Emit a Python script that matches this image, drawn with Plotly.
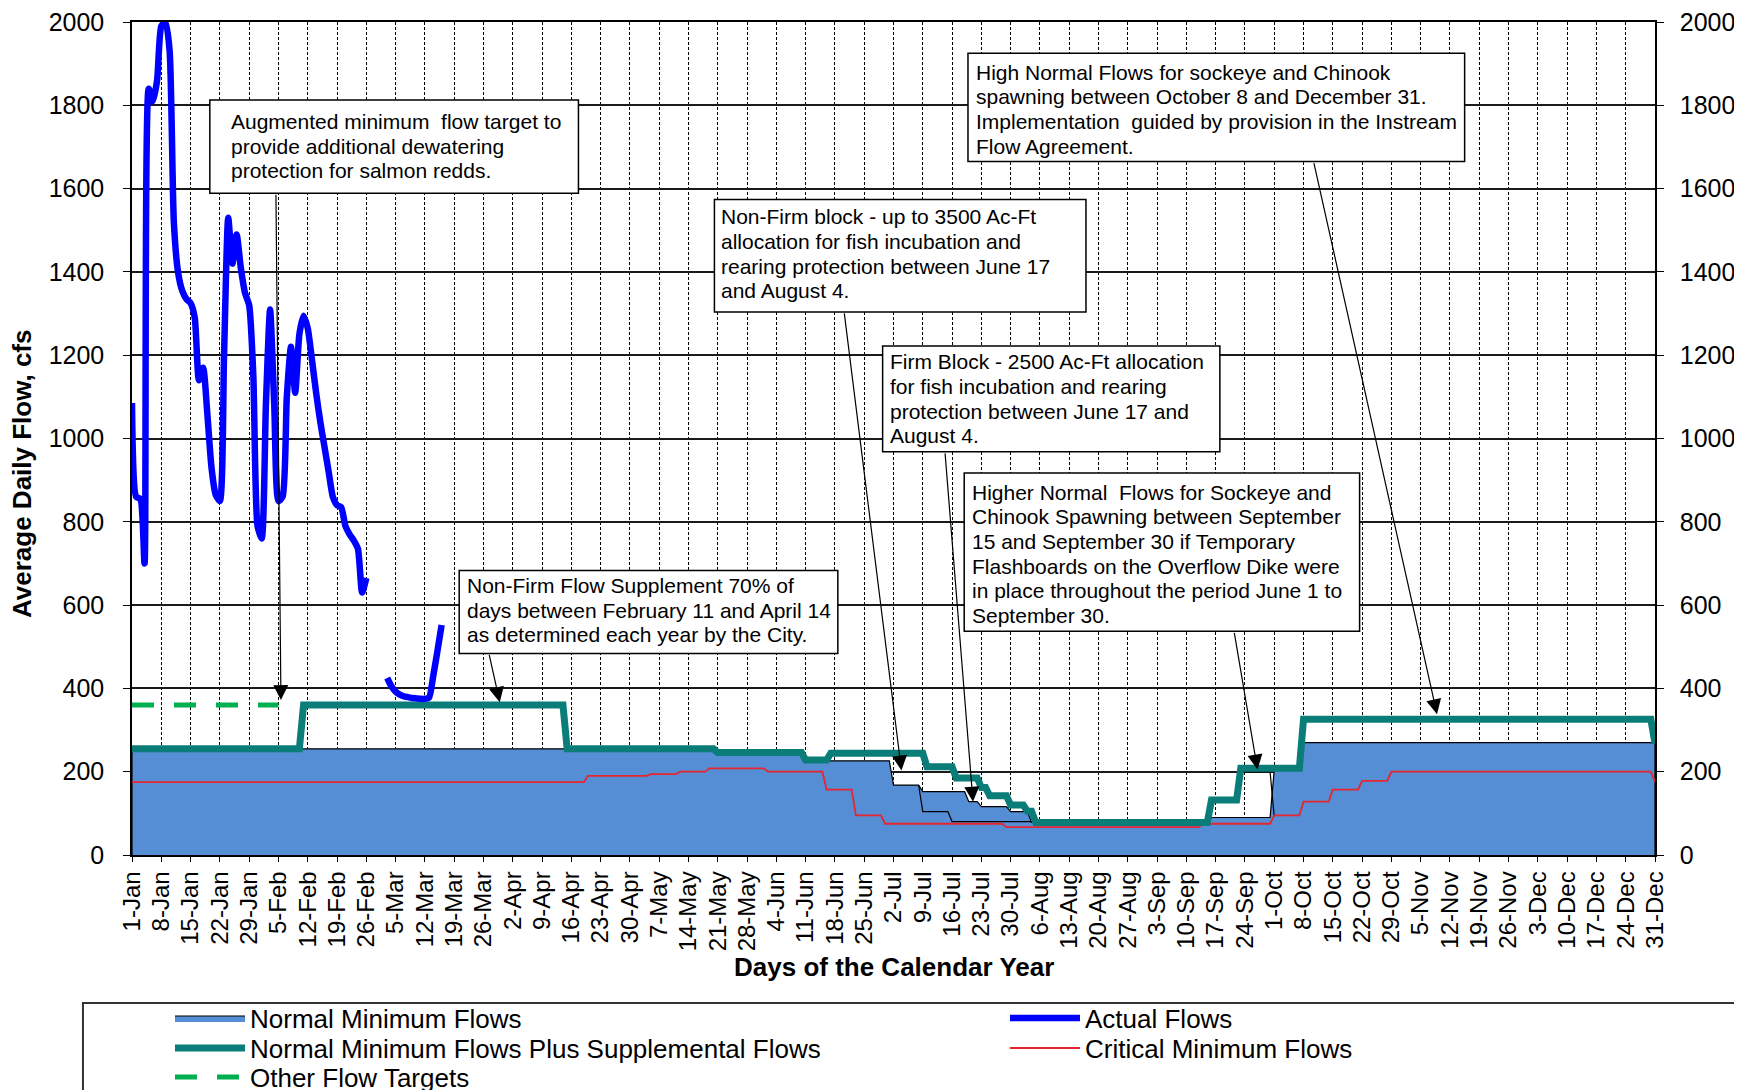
import plotly.graph_objects as go

FONT = "Liberation Sans, Arial, sans-serif"

# ---------------- data ----------------
TICK_DAYS = [1, 8, 15, 22, 29, 36, 43, 50, 57, 64, 71, 78, 85, 92, 99, 106, 113, 120,
             127, 134, 141, 148, 155, 162, 169, 176, 183, 190, 197, 204, 211, 218, 225,
             232, 239, 246, 253, 260, 267, 274, 281, 288, 295, 302, 309, 316, 323, 330,
             337, 344, 351, 358, 365]
TICK_LABELS = ["1-Jan", "8-Jan", "15-Jan", "22-Jan", "29-Jan", "5-Feb", "12-Feb", "19-Feb",
               "26-Feb", "5-Mar", "12-Mar", "19-Mar", "26-Mar", "2-Apr", "9-Apr", "16-Apr",
               "23-Apr", "30-Apr", "7-May", "14-May", "21-May", "28-May", "4-Jun", "11-Jun",
               "18-Jun", "25-Jun", "2-Jul", "9-Jul", "16-Jul", "23-Jul", "30-Jul", "6-Aug",
               "13-Aug", "20-Aug", "27-Aug", "3-Sep", "10-Sep", "17-Sep", "24-Sep", "1-Oct",
               "8-Oct", "15-Oct", "22-Oct", "29-Oct", "5-Nov", "12-Nov", "19-Nov", "26-Nov",
               "3-Dec", "10-Dec", "17-Dec", "24-Dec", "31-Dec"]
Y_TICKS = [0, 200, 400, 600, 800, 1000, 1200, 1400, 1600, 1800, 2000]

ACTUAL_DAYS = [1, 2, 3, 4, 5, 6, 7, 8, 9, 10, 11, 12, 13, 14, 15, 16, 17, 18, 19, 20,
               21, 22, 23, 24, 25, 26, 27, 28, 29, 30, 31, 32, 33, 34, 35, 36, 37, 38, 39, 40,
               41, 42, 43, 44, 45, 46, 47, 48, 49, 50, 51, 52, 53, 54, 55, 56, 57,
               59,
               62, 63, 64, 65, 66, 67, 68, 69, 70, 71, 72, 73, 74, 75]
ACTUAL_CFS = [1085, 860, 855, 700, 1840, 1810, 1860, 1990, 2000, 1930, 1520, 1400, 1355, 1335,
              1325, 1290, 1140, 1170, 1060, 930, 865, 850, 1200, 1530, 1420, 1490, 1410, 1350,
              1320, 1150, 790, 760, 1080, 1310, 1080, 850, 860, 1100, 1220, 1110, 1250, 1295,
              1265, 1190, 1110, 1040, 980, 920, 860, 840, 835, 790, 770, 755, 735, 630, 665,
              None,
              425, 405, 392, 385, 381, 379, 377, 376, 375, 375, 378, 430, 490, 552]

NMF_START = [1, 141, 162, 183, 190, 201, 204, 211, 216, 259, 274, 281]
NMF_END = [140, 161, 182, 189, 200, 203, 210, 215, 258, 273, 280, 365]
NMF_CFS = [255, 246, 226, 168, 152, 128, 116, 104, 78, 90, 205, 270]

SUPP_START = [1, 42, 105, 141, 162, 168, 191, 198, 204, 206, 211, 215, 217, 259, 266, 281, 365]
SUPP_END = [41, 104, 140, 161, 167, 190, 197, 203, 205, 210, 214, 216, 258, 265, 280, 364, 365]
SUPP_CFS = [255, 360, 255, 246, 228, 244, 212, 185, 162, 142, 120, 105, 78, 132, 208, 326, 268]

CRIT_START = [1, 110, 125, 132, 139, 153, 167, 174, 181, 210, 257, 274, 281, 288, 295, 302, 365]
CRIT_END = [109, 124, 131, 138, 152, 166, 173, 180, 209, 256, 273, 280, 287, 294, 301, 364, 365]
CRIT_CFS = [175, 190, 194, 200, 208, 200, 157, 95, 75, 67, 75, 95, 128, 157, 178, 200, 176]

OTHER_START = [1]
OTHER_END = [36]
OTHER_CFS = [360]

ALT1_DAYS = [189, 190, 196, 197, 216]
ALT1_CFS = [168, 104, 104, 80, 80]
ALT2_DAYS = [266, 273, 274]
ALT2_CFS = [200, 200, 92]

NOTE_LINES = [
    ["Augmented minimum  flow target to", "provide additional dewatering",
     "protection for salmon redds."],
    ["Non-Firm Flow Supplement 70% of", "days between February 11 and April 14",
     "as determined each year by the City."],
    ["Non-Firm block - up to 3500 Ac-Ft", "allocation for fish incubation and",
     "rearing protection between June 17", "and August 4."],
    ["Firm Block - 2500 Ac-Ft allocation", "for fish incubation and rearing",
     "protection between June 17 and", "August 4."],
    ["Higher Normal  Flows for Sockeye and", "Chinook Spawning between September",
     "15 and September 30 if Temporary", "Flashboards on the Overflow Dike were",
     "in place throughout the period June 1 to", "September 30."],
    ["High Normal Flows for sockeye and Chinook", "spawning between October 8 and December 31.",
     "Implementation  guided by provision in the Instream", "Flow Agreement."],
]
BOX_X0 = [19.6, 79.2, 140.2, 180.4, 199.9, 200.8]
BOX_X1 = [107.7, 169.7, 229.0, 261.0, 294.4, 319.5]
BOX_TOP = [1813, 683, 1574, 1222, 917, 1925]
BOX_BOTTOM = [1589, 484, 1304, 968, 537, 1665]
TEXT_INSET = [19, 6, 5, 5, 6, 6]
FIRST_LINE = [21.7, 15, 17.3, 15.7, 19, 19]
LINE_GAP = 24.7

ARROW_TAIL_X = [35.4, 86.3, 171.2, 195.3, 264.4, 283.4]
ARROW_TAIL_Y = [1589, 484, 1304, 968, 537, 1665]
ARROW_HEAD_X = [36.6, 88.9, 184.9, 202.0, 270.0, 312.9]
ARROW_HEAD_Y = [372, 367, 203, 128, 205, 338]


def steps(starts, ends, vals):
    xs, ys = [], []
    for s, e, v in zip(starts, ends, vals):
        xs.append(s)
        ys.append(v)
        if e != s:
            xs.append(e)
            ys.append(v)
    return xs, ys


nmf_x, nmf_y = steps(NMF_START, NMF_END, NMF_CFS)
supp_x, supp_y = steps(SUPP_START, SUPP_END, SUPP_CFS)
crit_x, crit_y = steps(CRIT_START, CRIT_END, CRIT_CFS)
oth_x, oth_y = steps(OTHER_START, OTHER_END, OTHER_CFS)

fig = go.Figure()

fig.add_trace(go.Scatter(
    x=[nmf_x[0]] + nmf_x + [nmf_x[-1]], y=[0] + nmf_y + [0],
    mode="lines", fill="tozeroy", fillcolor="#558ED5",
    line=dict(color="black", width=1.2),
    name="Normal Minimum Flows", legend="legend"))
fig.add_trace(go.Scatter(x=ALT1_DAYS, y=ALT1_CFS, mode="lines",
                         line=dict(color="black", width=1.2), showlegend=False))
fig.add_trace(go.Scatter(x=ALT2_DAYS, y=ALT2_CFS, mode="lines",
                         line=dict(color="black", width=1.2), showlegend=False))
fig.add_trace(go.Scatter(x=crit_x, y=crit_y, mode="lines",
                         line=dict(color="#E8242E", width=1.8),
                         name="Critical Minimum Flows", legend="legend4"))
fig.add_trace(go.Scatter(x=supp_x, y=supp_y, mode="lines",
                         line=dict(color="#0A7D78", width=7),
                         name="Normal Minimum Flows Plus Supplemental Flows", legend="legend3"))
fig.add_trace(go.Scatter(x=ACTUAL_DAYS, y=ACTUAL_CFS, mode="lines",
                         line=dict(color="#0000FF", width=6.5, shape="spline", smoothing=0.6),
                         name="Actual Flows", legend="legend2"))
# drawn against the right-hand axis (same 0-2000 scale) so that axis is rendered
fig.add_trace(go.Scatter(x=oth_x, y=oth_y, mode="lines", yaxis="y2",
                         line=dict(color="#00B050", width=5, dash="22px,20px"),
                         name="Other Flow Targets", legend="legend5"))

# note boxes
for i, lines in enumerate(NOTE_LINES):
    fig.add_shape(type="rect", xref="x", yref="y", x0=BOX_X0[i], x1=BOX_X1[i],
                  y0=BOX_BOTTOM[i], y1=BOX_TOP[i], layer="above",
                  line=dict(color="black", width=1.5), fillcolor="white")
    for j, txt in enumerate(lines):
        fig.add_annotation(x=BOX_X0[i], y=BOX_TOP[i], xref="x", yref="y",
                           xanchor="left", yanchor="middle", showarrow=False,
                           xshift=TEXT_INSET[i], yshift=-(FIRST_LINE[i] + j * LINE_GAP),
                           text=txt, font=dict(family=FONT, size=21, color="black"))

for i in range(len(ARROW_HEAD_X)):
    fig.add_annotation(x=ARROW_HEAD_X[i], y=ARROW_HEAD_Y[i], xref="x", yref="y",
                       ax=ARROW_TAIL_X[i], ay=ARROW_TAIL_Y[i], axref="x", ayref="y",
                       text="", showarrow=True, arrowhead=2, arrowsize=2.5,
                       arrowwidth=1.2, arrowcolor="black", standoff=0)

# axis titles
fig.add_annotation(x=0.5, y=-0.1345, xref="paper", yref="paper", showarrow=False,
                   text="<b>Days of the Calendar Year</b>", xanchor="center", yanchor="middle",
                   font=dict(family=FONT, size=26, color="black"))
fig.add_annotation(x=-0.0722, y=0.4574, xref="paper", yref="paper", showarrow=False,
                   text="<b>Average Daily Flow, cfs</b>", textangle=-90,
                   xanchor="center", yanchor="middle",
                   font=dict(family=FONT, size=26, color="black"))

# legend frame
fig.add_shape(type="rect", xref="paper", yref="paper", x0=-0.0322, x1=1.08,
              y0=-0.40, y1=-0.1777, line=dict(color="#333333", width=2),
              fillcolor="white", layer="below")

leg_common = dict(xanchor="left", yanchor="top", bgcolor="rgba(0,0,0,0)",
                  borderwidth=0, itemwidth=70,
                  font=dict(family=FONT, size=26, color="black"))

tick_font = dict(family=FONT, size=25, color="black")

fig.update_layout(
    width=1742, height=1090,
    margin=dict(l=124, r=95, t=14, b=243, autoexpand=False),
    paper_bgcolor="white", plot_bgcolor="white",
    font=dict(family=FONT, color="black"),
    legend=dict(x=0.02495, y=-0.1676, **leg_common),
    legend2=dict(x=0.5732, y=-0.1676, **leg_common),
    legend3=dict(x=0.02495, y=-0.2036, **leg_common),
    legend4=dict(x=0.5732, y=-0.2036, **leg_common),
    legend5=dict(x=0.02495, y=-0.2384, **leg_common),
    xaxis=dict(range=[1, 365], tickmode="array", tickvals=TICK_DAYS, ticktext=TICK_LABELS,
               tickangle=-90, tickfont=dict(family=FONT, size=24, color="black"),
               showgrid=True, gridcolor="black", gridwidth=1, griddash="3px,2px",
               showline=True, linecolor="black", linewidth=1.5, mirror=True,
               ticks="outside", ticklen=5, tickcolor="black", zeroline=False),
    yaxis=dict(range=[0, 2000], tickmode="array", tickvals=Y_TICKS, tickfont=tick_font,
               showgrid=True, gridcolor="#1a1a1a", gridwidth=1.5,
               showline=True, linecolor="black", linewidth=1.5,
               ticks="outside", ticklen=7, tickcolor="black", zeroline=False,
               ticklabelstandoff=14, ticklabeloverflow="allow"),
    yaxis2=dict(range=[0, 2000], tickmode="array", tickvals=Y_TICKS, tickfont=tick_font,
                overlaying="y", side="right", showgrid=False,
                showline=True, linecolor="black", linewidth=1.5,
                ticks="outside", ticklen=7, tickcolor="black", zeroline=False,
                ticklabelstandoff=11, ticklabeloverflow="allow"),
)

fig.write_html("out.html")
